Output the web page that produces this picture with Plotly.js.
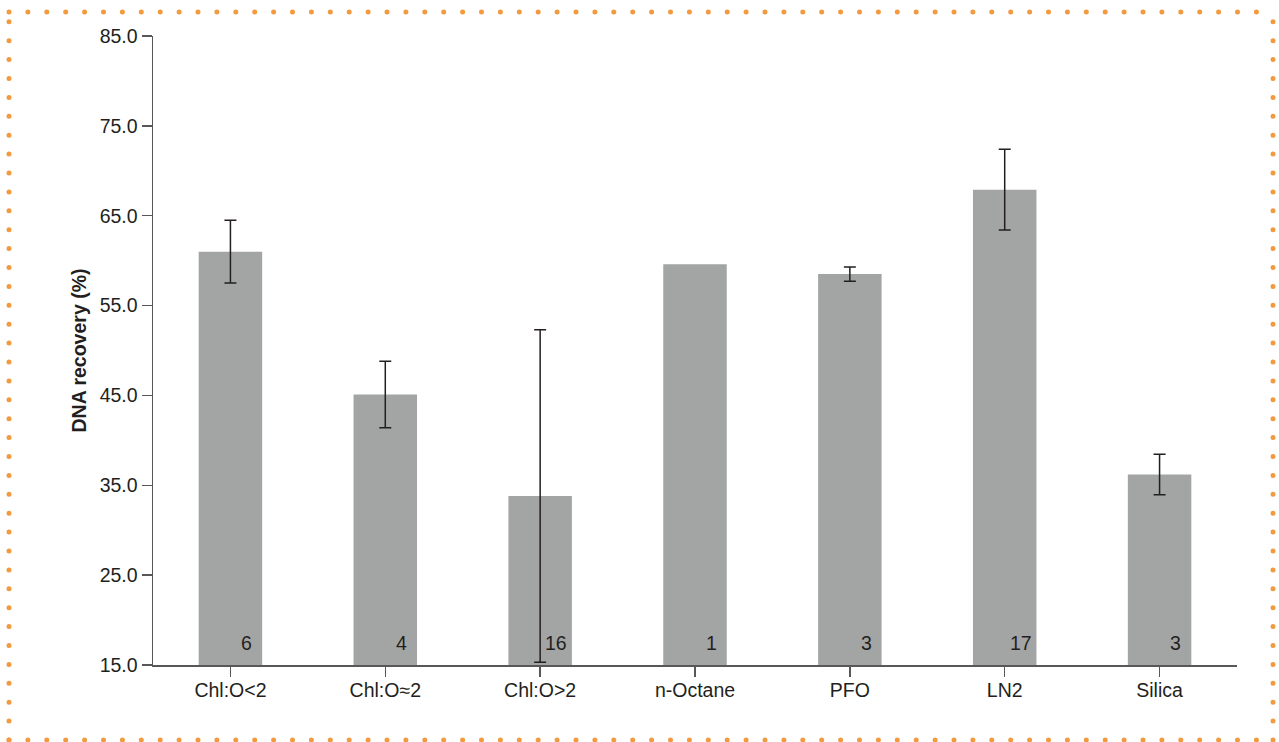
<!DOCTYPE html>
<html>
<head>
<meta charset="utf-8">
<script src="https://cdn.plot.ly/plotly-3.0.1.min.js"></script>
<style>
  html, body { margin: 0; padding: 0; background: #fff; }
  #chart { width: 1279px; height: 742px; }
  /* round caps turn the zero-length dashes of the frame into dots */
  .shapelayer path { stroke-linecap: round; }
</style>
</head>
<body>
<div id="chart"></div>
<script>
// Extraction methods and mean DNA recovery with standard deviation
const categories = ['Chl:O<2', 'Chl:O\u22482', 'Chl:O>2', 'n-Octane', 'PFO', 'LN2', 'Silica'];
const recovery = [61.0, 45.1, 33.8, 59.6, 58.5, 67.9, 36.2];
// n-Octane is a single run, so it has no spread (NaN leaves its error bar out)
const recoverySd = [3.5, 3.7, 18.5, NaN, 0.8, 4.5, 2.25];
const sampleCounts = [6, 4, 16, 1, 3, 17, 3];
const yTicks = [15, 25, 35, 45, 55, 65, 75, 85];

const W = 1279, H = 742;
const M = { l: 153, r: 42, t: 36, b: 77 };
const plotW = W - M.l - M.r, plotH = H - M.t - M.b;
const px = x => (x - M.l) / plotW;
const py = y => (H - M.b - y) / plotH;

const textColor = '#231f20';
const axisColor = '#58585a';
const fontFamily = 'Liberation Sans, Arial, sans-serif';
const fontSize = 19.5;

const bars = {
  type: 'bar',
  x: categories,
  y: recovery,
  width: 0.41,
  marker: { color: '#a3a5a4', line: { width: 0 } },
  error_y: {
    type: 'data',
    array: recoverySd,
    visible: true,
    color: '#231f20',
    thickness: 1.5,
    width: 6
  },
  hoverinfo: 'x+y'
};

const countLabels = categories.map((c, i) => ({
  x: i + 0.105,
  y: 17.4,
  xref: 'x',
  yref: 'y',
  text: String(sampleCounts[i]),
  showarrow: false,
  xanchor: 'center',
  yanchor: 'middle',
  font: { family: fontFamily, size: fontSize, color: textColor }
}));

// Orange dotted frame around the figure
const frameColor = '#f29a3f';
const fx0 = px(9), fx1 = px(1273), fy0 = py(740), fy1 = py(12);
const frame = [
  [fx0, fy1, fx1, fy1],
  [fx0, fy0, fx1, fy0],
  [fx0, fy0, fx0, fy1],
  [fx1, fy0, fx1, fy1]
].map(([x0, y0, x1, y1]) => ({
  type: 'line', xref: 'paper', yref: 'paper',
  x0, y0, x1, y1,
  line: { color: frameColor, width: 5, dash: '0px,18.9px' }
}));

const layout = {
  width: W,
  height: H,
  margin: M,
  paper_bgcolor: '#ffffff',
  plot_bgcolor: '#ffffff',
  showlegend: false,
  font: { family: fontFamily, size: fontSize, color: textColor },
  xaxis: {
    type: 'category',
    range: [-0.5, 6.5],
    showgrid: false,
    zeroline: false,
    showline: true,
    linecolor: axisColor,
    linewidth: 1.5,
    ticks: 'outside',
    ticklen: 10,
    tickwidth: 1.5,
    tickcolor: axisColor,
    ticklabelstandoff: -3,
    tickfont: { size: fontSize, color: textColor },
    fixedrange: true
  },
  yaxis: {
    range: [15, 85],
    tickvals: yTicks,
    ticktext: yTicks.map(v => v.toFixed(1)),
    showgrid: false,
    zeroline: false,
    showline: true,
    linecolor: axisColor,
    linewidth: 1.5,
    ticks: 'outside',
    ticklen: 10,
    tickwidth: 1.5,
    tickcolor: axisColor,
    tickfont: { size: fontSize, color: textColor },
    title: {
      text: '<b>DNA recovery (%)</b>',
      font: { size: fontSize, color: textColor },
      standoff: 8
    },
    fixedrange: true
  },
  annotations: countLabels,
  shapes: frame
};

Plotly.newPlot('chart', [bars], layout, { displayModeBar: false, staticPlot: true });
</script>
</body>
</html>
